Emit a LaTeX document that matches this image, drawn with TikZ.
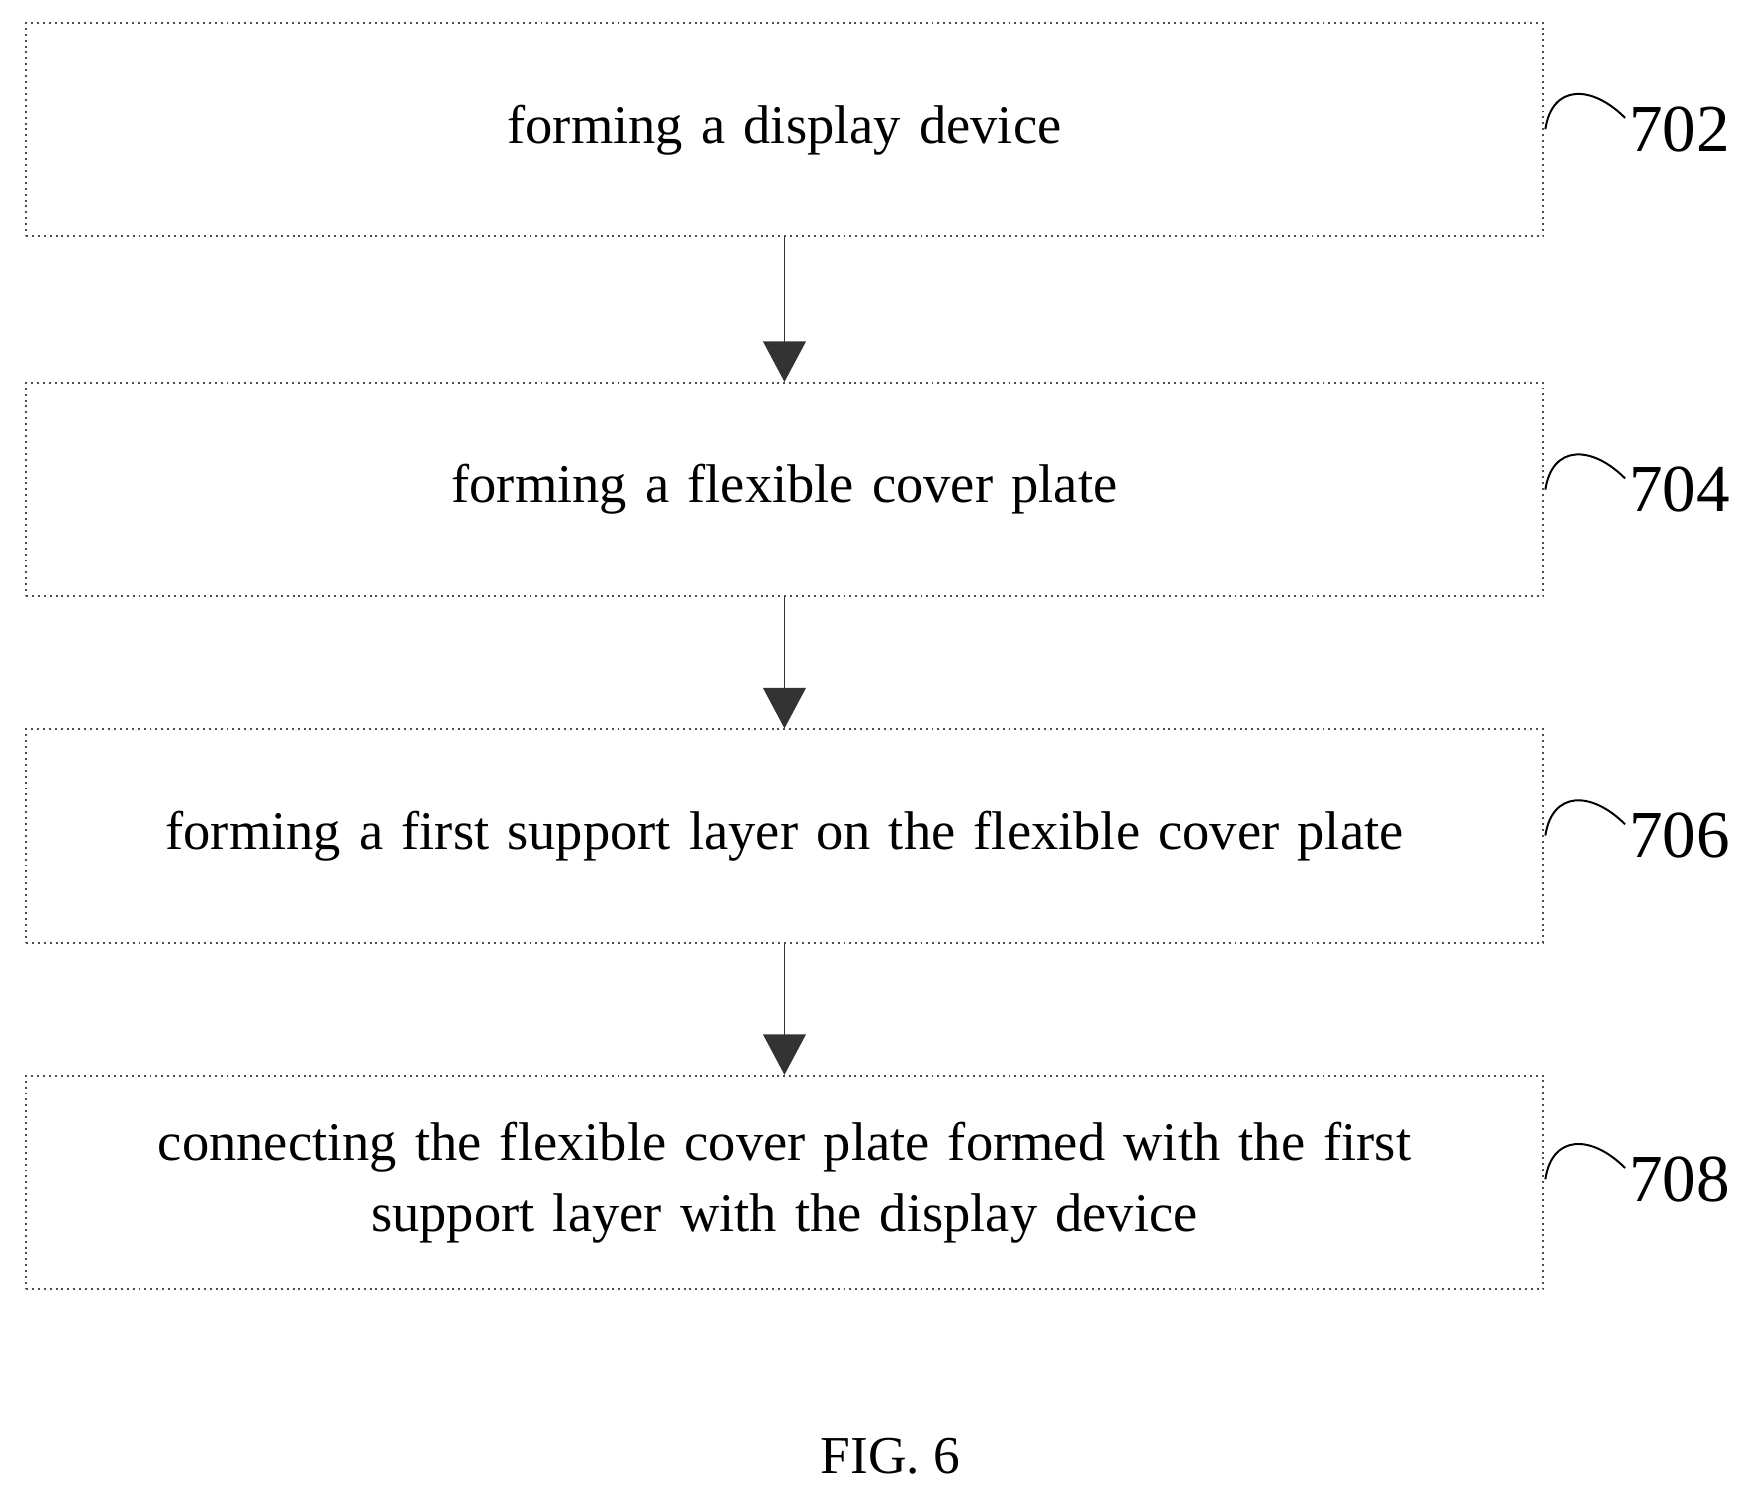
\documentclass[tikz,border=0pt]{standalone}
\usepackage{fontspec}
\setmainfont{Liberation Serif}
\usetikzlibrary{positioning,arrows.meta}

\begin{document}
\begin{tikzpicture}[
    x=0.01cm, y=-0.01cm,
    stage/.style={draw=black!70,densely dotted,line width=0.5pt,minimum width=13.5cm,minimum height=1.9cm,
                 inner sep=0pt,align=center,text width=12cm,font={\fontsize{13.8}{18}\selectfont}},
    num/.style={font={\fontsize{17}{20}\selectfont},anchor=west,inner sep=0pt},
    flow/.style={-{Triangle[length=0.36cm,width=0.38cm]},line width=0.4pt,black!80}
]
    \useasboundingbox (0,0) rectangle (1560,1322);

    \node[stage] (s1) at (698.5,115.5) {forming a display device};
    \node[stage] (s2) at (698.5,436) {forming a flexible cover plate};
    \node[stage] (s3) at (698.5,744.5) {forming a first support layer on the flexible cover plate};
    \node[stage] (s4) at (698.5,1053) {connecting the flexible cover plate formed with the first\\support layer with the display device};

    \draw[flow] (s1) -- (s2);
    \draw[flow] (s2) -- (s3);
    \draw[flow] (s3) -- (s4);

    % reference numerals
    \foreach \lbl/\yy in {702/115, 704/436, 706/744, 708/1050}{
        \draw[line width=0.5pt] (1376,\yy) .. controls (1382,\yy-40) and (1417,\yy-40) .. (1447,\yy-10);
        \node[num] (n\lbl) at (1450,\yy) {\lbl};
    }

    \node[font={\fontsize{13.5}{16}\selectfont}] (fig) at (793,1297) {FIG. 6};
\end{tikzpicture}
\end{document}
